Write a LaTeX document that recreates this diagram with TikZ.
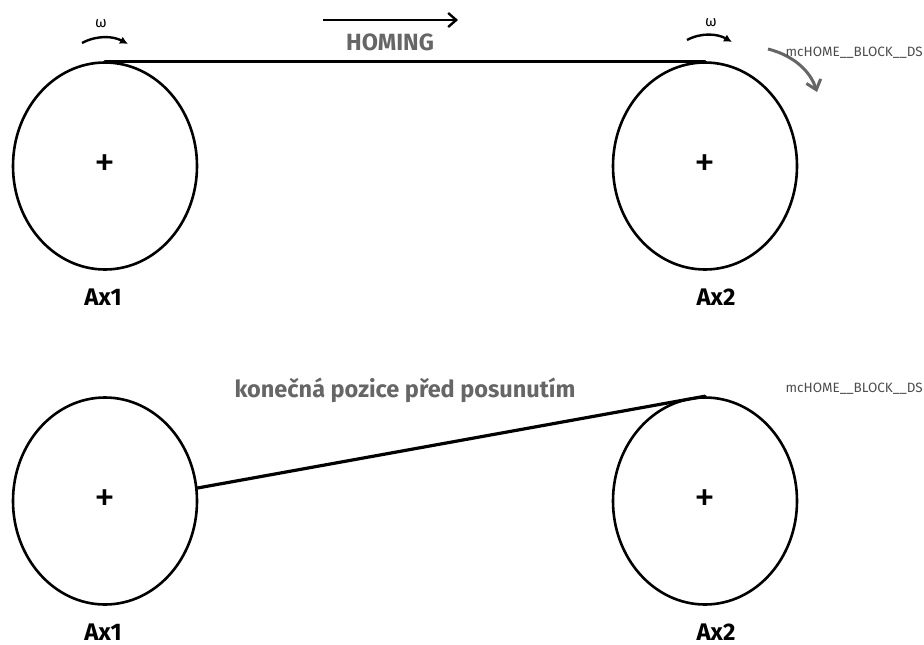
\documentclass[tikz,border=0pt]{standalone}
\usepackage{fontspec}
\setmainfont{Fira Sans}
\usepackage{tikz}
\usetikzlibrary{positioning,arrows.meta,shapes.geometric}

\begin{document}
\begin{tikzpicture}[
  x=1pt, y=-1pt,
  wheel/.style={draw, ellipse, line width=2.6pt, minimum width=184pt,
                minimum height=207pt, inner sep=0pt,
                font=\fontsize{42}{44}\selectfont},
  axlab/.style={font=\fontsize{24}{26}\selectfont\bfseries},
  greytxt/.style={text=black!60, font=\fontsize{23.5}{26}\selectfont\bfseries},
  sigtxt/.style={text=black!70, font=\fontsize{13.5}{16}\selectfont},
  omtxt/.style={font=\fontsize{15}{16}\selectfont},
  belt/.style={line width=3.2pt, line cap=round},
  omg/.style={-{Latex[length=8pt,width=8pt]}, line width=2.4pt},
  dir/.style={-{Straight Barb[length=8pt,width=14pt]}, line width=2.4pt},
  sig/.style={-{Straight Barb[length=9pt,width=15pt]}, line width=3pt, draw=black!60},
]
\useasboundingbox (0,0) rectangle (924,645);

% horni cast - homing
\node[wheel] (ax1t) at (105,166) {+};
\node[wheel] (ax2t) at (705,166) {+};
\node[axlab] (ax1tlab) at (103,297) {Ax1};
\node[axlab] (ax2tlab) at (716,297) {Ax2};
\draw[belt] (ax1t.north) -- (ax2t.north);

\coordinate (om1a) at (82,43);
\coordinate (om1b) at (128,44);
\coordinate (om2a) at (687,40);
\coordinate (om2b) at (732,42);
\draw[omg] (om1a) .. controls (97,35) and (113,36) .. (om1b);
\draw[omg] (om2a) .. controls (702,32) and (718,34) .. (om2b);
\node[omtxt] (w1) at (101,24) {ω};
\node[omtxt] (w2) at (711,23) {ω};

\coordinate (ha) at (323,20);
\coordinate (hb) at (458,20);
\draw[dir] (ha) -- (hb);
\node[greytxt] (homing) at (390,42) {HOMING};

\coordinate (sa) at (768,49);
\coordinate (sb) at (817,92);
\draw[sig] (sa) .. controls (792,55) and (810,70) .. (sb);
\node[sigtxt, anchor=east, inner xsep=1pt] (sig1) at (924,53) {mcHOME\_\_BLOCK\_\_DS};

% dolni cast - konecna pozice
\node[wheel] (ax1b) at (105,501) {+};
\node[wheel] (ax2b) at (705,501) {+};
\node[axlab] (ax1blab) at (103,632) {Ax1};
\node[axlab] (ax2blab) at (716,632) {Ax2};
\draw[belt] (ax1b.8) -- (ax2b.north);

\node[greytxt] (pos) at (405,390) {konečná pozice před posunutím};
\node[sigtxt, anchor=east, inner xsep=1pt] (sig2) at (924,389) {mcHOME\_\_BLOCK\_\_DS};
\end{tikzpicture}
\end{document}
